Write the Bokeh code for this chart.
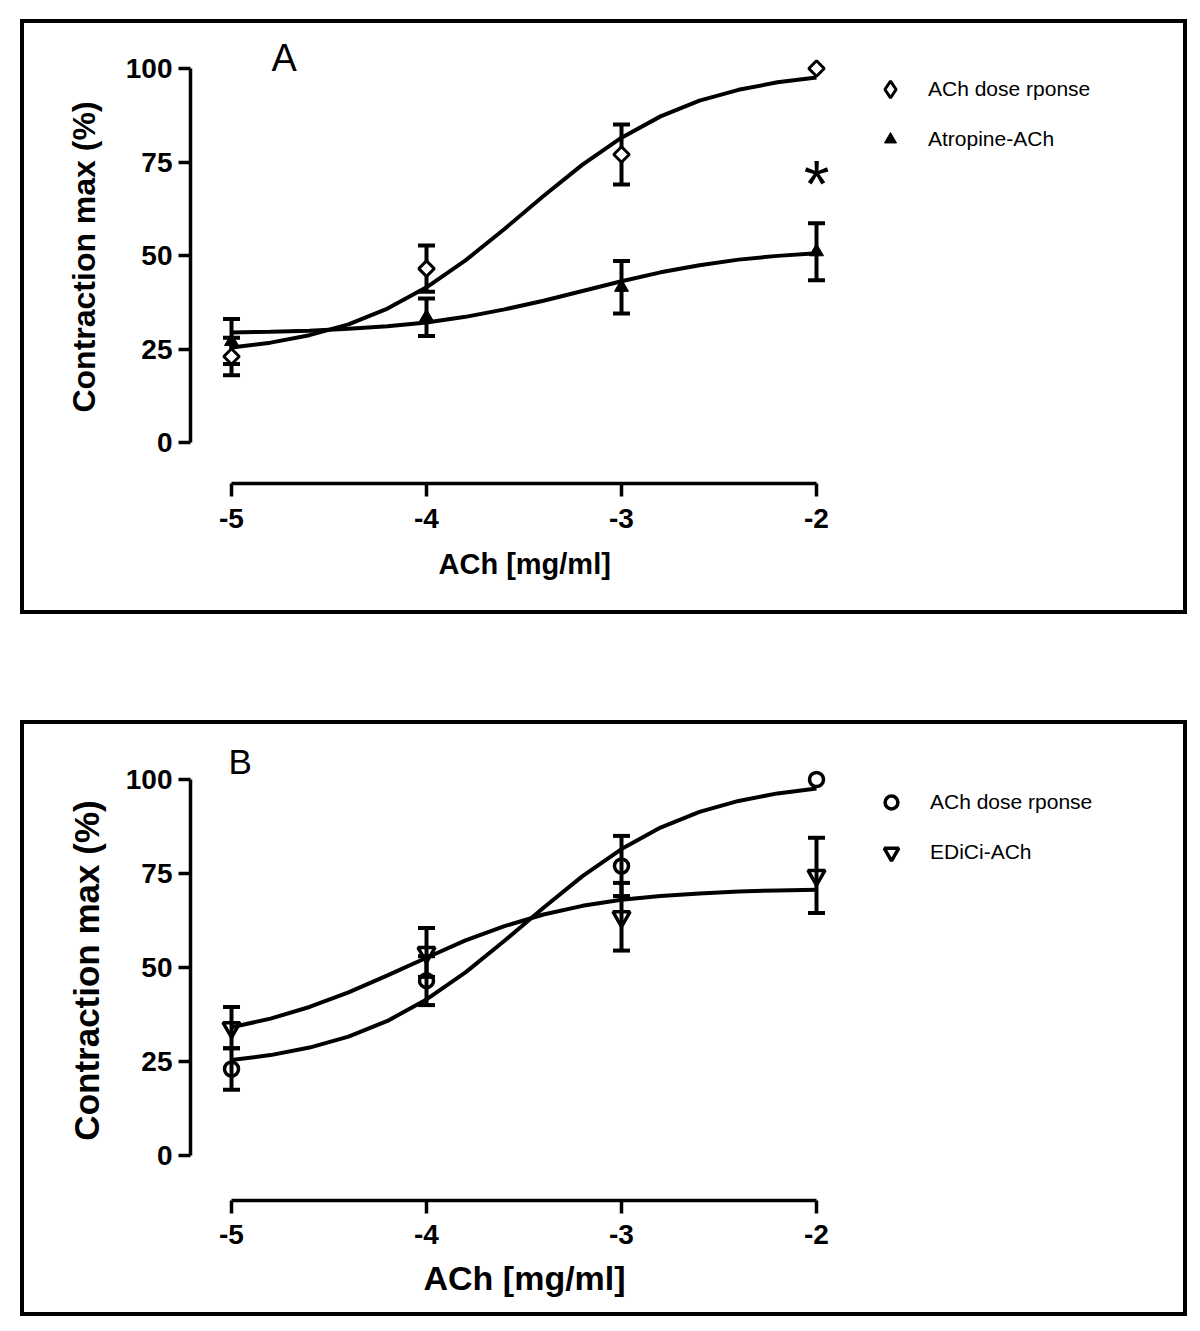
import numpy as np
from bokeh.plotting import figure
from bokeh.models import (ColumnDataSource, Whisker, TeeHead, Legend, LegendItem,
                          Range1d, FixedTicker, Title)
from bokeh.layouts import column
from bokeh.embed import file_html
from bokeh.resources import INLINE
from bokeh.core.properties import value

# ---------------- data ----------------
dose = [-5, -4, -3, -2]
x_ticks = [-5, -4, -3, -2]
x_tick_labels = ["-5", "-4", "-3", "-2"]
y_ticks = [0, 25, 50, 75, 100]
y_tick_labels = ["0", "25", "50", "75", "100"]

# Panel A
ach_a_mean = [23, 46.5, 77, 100]
ach_a_sem = [5, 6.2, 8, 0]
atr_mean = [27, 33.5, 41.5, 51]
atr_sem = [6, 5, 7, 7.6]

# Panel B
ach_b_mean = [23, 46.5, 77, 100]
ach_b_sem = [5.5, 6.5, 8, 0]
edici_mean = [34, 54, 63.5, 74.5]
edici_sem = [5.5, 6.5, 9, 10]

# fitted curves
curve_x = [-5.0, -4.8, -4.6, -4.4, -4.2, -4.0, -3.8, -3.6, -3.4, -3.2,
           -3.0, -2.8, -2.6, -2.4, -2.2, -2.0]
ach_curve = [25.4, 26.7, 28.7, 31.6, 35.8, 41.5, 48.7, 57.1, 65.9, 74.3,
             81.5, 87.2, 91.4, 94.3, 96.3, 97.6]
atr_curve = [29.4, 29.6, 29.9, 30.4, 31.1, 32.1, 33.6, 35.6, 37.9, 40.5,
             43.1, 45.5, 47.4, 48.9, 49.9, 50.6]
edici_curve = [34.1, 36.4, 39.5, 43.4, 47.9, 52.6, 57.2, 61.0, 64.1, 66.4,
               68.0, 69.0, 69.7, 70.2, 70.5, 70.7]

series_a = ["ACh dose rponse", "Atropine-ACh"]
series_b = ["ACh dose rponse", "EDiCi-ACh"]
x_title = "ACh [mg/ml]"
y_title = "Contraction max (%)"

FONT = "Liberation Sans"
BORDER = {"border": "4px solid black", "box-sizing": "content-box"}


def err_source(mean, sem):
    xs, up, lo = [], [], []
    for x, m, s in zip(dose, mean, sem):
        if s > 0:
            xs.append(x)
            up.append(m + s)
            lo.append(m - s)
    return ColumnDataSource(dict(x=xs, upper=up, lower=lo))


def add_err(p, mean, sem):
    src = err_source(mean, sem)
    w = Whisker(source=src, base="x", upper="upper", lower="lower",
                line_width=4, line_color="black",
                upper_head=TeeHead(size=17, line_width=4, line_color="black"),
                lower_head=TeeHead(size=17, line_width=4, line_color="black"))
    p.add_layout(w)


def style(p, xlabel_size, ylabel_size, ylab_standoff, xtick_standoff, xtitle_offset,
          xtitle_standoff):
    p.xgrid.visible = False
    p.ygrid.visible = False
    p.outline_line_color = None
    p.background_fill_color = "white"
    p.border_fill_color = "white"
    ax = p.xaxis[0]
    ax.ticker = FixedTicker(ticks=x_ticks)
    ax.major_label_overrides = {t: l for t, l in zip(x_ticks, x_tick_labels)}
    ax.bounds = (-5, -2)
    ay = p.yaxis[0]
    ay.ticker = FixedTicker(ticks=y_ticks)
    ay.major_label_overrides = {t: l for t, l in zip(y_ticks, y_tick_labels)}
    ay.bounds = (0, 100)
    for a in (ax, ay):
        a.axis_line_width = 3.5
        a.axis_line_color = "black"
        a.major_tick_line_width = 3.5
        a.major_tick_line_color = "black"
        a.major_tick_in = 0
        a.minor_tick_line_color = None
        a.major_label_text_font = FONT
        a.major_label_text_font_style = "bold"
        a.major_label_text_font_size = "28px"
        a.major_label_text_color = "black"
        a.axis_label_text_font = FONT
        a.axis_label_text_font_style = "bold"
        a.axis_label_text_color = "black"
    ax.major_tick_out = 13
    ay.major_tick_out = 12
    ax.major_label_standoff = xtick_standoff
    ay.major_label_standoff = 6
    ay.axis_label = y_title
    ay.axis_label_text_font_size = ylabel_size
    ay.axis_label_standoff = ylab_standoff
    # x-axis title, centred under the axis (-5 … -2) rather than the whole frame
    p.add_layout(Title(text=x_title, align="left", offset=xtitle_offset,
                       standoff=xtitle_standoff,
                       text_font=FONT, text_font_style="bold",
                       text_font_size=xlabel_size, text_color="black"), "below")


def make_legend(item, loc, box, standoff):
    return Legend(items=[item], location=loc, orientation="vertical",
                  glyph_width=box, glyph_height=box, label_height=box, spacing=0,
                  padding=0, margin=0, label_standoff=standoff,
                  label_text_font=FONT, label_text_font_size="21px",
                  label_text_color="black",
                  border_line_color=None, background_fill_alpha=0)


# ---------------- Panel A ----------------
pa = figure(width=1159, height=587, output_backend="svg", toolbar_location=None,
            x_range=Range1d(-5.2103, -0.1436), y_range=Range1d(-10.96, 110.16),
            min_border_left=166, min_border_right=13, min_border_top=7,
            min_border_bottom=135, styles=BORDER, margin=(19, 0, 0, 20))
style(pa, "29px", "32px", 21, 12, 248, 31)

pa.line(curve_x, ach_curve, line_width=4, line_color="black")
pa.line(curve_x, atr_curve, line_width=4, line_color="black")
add_err(pa, ach_a_mean, ach_a_sem)
add_err(pa, atr_mean, atr_sem)
# diamond glyph used for the legend (hidden beneath the plotted diamonds)
r_ach_a_leg = pa.scatter(dose, ach_a_mean, marker="diamond", size=2, line_width=3,
                         line_color="black", fill_color="white")
pa.scatter(dose, ach_a_mean, marker="square", angle=np.pi / 4, size=11,
           line_width=3, line_color="black", fill_color="white")
r_atr = pa.scatter(dose, atr_mean, marker="triangle", size=14,
                   line_width=1, line_color="black", fill_color="black")

pa.text(x=[-4.795], y=[102.8], text=["A"], text_align="left", text_baseline="alphabetic",
        text_font=value(FONT), text_font_size="38px", text_color="black")
pa.text(x=[-2.0], y=[69.1], text=["*"], text_align="center", text_baseline="alphabetic",
        text_font=value(FONT), text_font_size="66px", text_color="black")

pa.add_layout(make_legend(LegendItem(label=series_a[0], renderers=[r_ach_a_leg]),
                          (679, 373), 42, 17))
pa.add_layout(make_legend(LegendItem(label=series_a[1], renderers=[r_atr]),
                          (685, 329), 30, 23))

# ---------------- Panel B ----------------
pb = figure(width=1159, height=588, output_backend="svg", toolbar_location=None,
            x_range=Range1d(-5.2103, -0.1436), y_range=Range1d(-11.97, 110.37),
            min_border_left=166, min_border_right=13, min_border_top=16,
            min_border_bottom=120, styles=BORDER, margin=(106, 0, 0, 20))
style(pb, "34px", "35px", 17, 11, 233, 20)

pb.line(curve_x, ach_curve, line_width=4, line_color="black")
pb.line(curve_x, edici_curve, line_width=4, line_color="black")
add_err(pb, ach_b_mean, ach_b_sem)
add_err(pb, edici_mean, edici_sem)
r_ach_b = pb.scatter(dose, ach_b_mean, marker="circle", size=14,
                     line_width=3.5, line_color="black", fill_color=None)
r_edi = pb.scatter(dose, edici_mean, marker="inverted_triangle", size=17,
                   line_width=3.5, line_color="black", fill_color=None)

pb.text(x=[-5.015], y=[104.9], text=["B"], text_align="left", text_baseline="alphabetic",
        text_font=value(FONT), text_font_size="35px", text_color="black")

pb.add_layout(make_legend(LegendItem(label=series_b[0], renderers=[r_ach_b]),
                          (685, 382), 32, 23))
pb.add_layout(make_legend(LegendItem(label=series_b[1], renderers=[r_edi]),
                          (683, 330), 36, 21))

layout = column(pa, pb, spacing=0)
open("out.html", "w").write(file_html(layout, INLINE))
